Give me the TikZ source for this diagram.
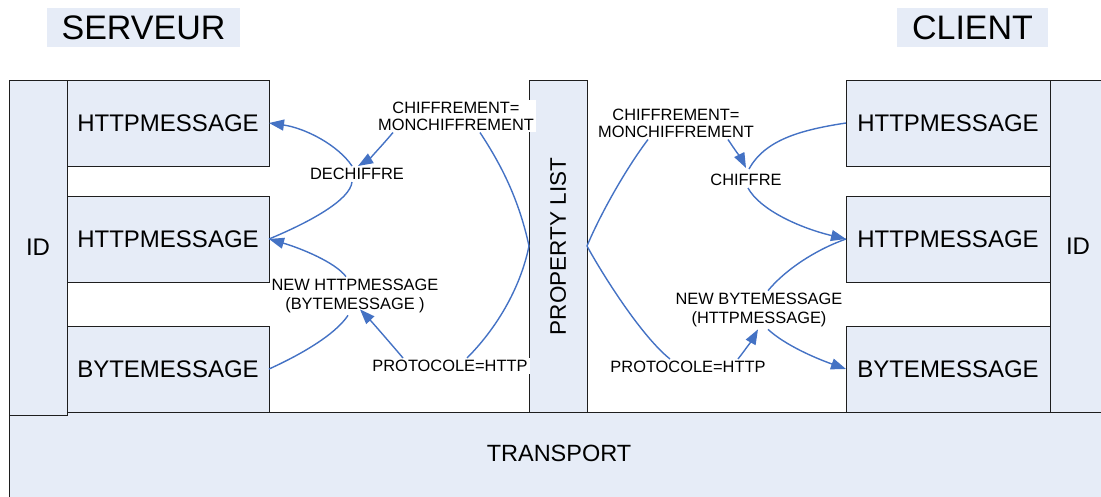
\documentclass[tikz,border=0pt]{standalone}
\usepackage{fontspec}
\setmainfont{Liberation Sans}
\usetikzlibrary{arrows.meta}
\definecolor{panel}{RGB}{230,236,247}
\definecolor{link}{RGB}{68,114,196}
\definecolor{edge}{RGB}{30,30,30}

\begin{document}
\begin{tikzpicture}[x=1pt,y=-1pt,
  box/.style={draw=edge, line width=1pt, fill=panel, inner sep=0pt, outer sep=0pt,
              font=\fontsize{24}{28}\selectfont},
  title/.style={fill=panel, inner sep=0pt, font=\fontsize{34}{40}\selectfont},
  tag/.style={fill=white, inner sep=2pt, align=center, font=\fontsize{16.4}{17}\selectfont},
  tagwide/.style={tag, font=\fontsize{16.4}{19.5}\selectfont},
  conn/.style={draw=link, line width=1.4pt},
  arr/.style={conn, -{Triangle[length=15pt,width=11pt]}},
]
\path[use as bounding box, clip] (0,0) rectangle (1101,496);

% titles
\node[title, minimum width=193pt, minimum height=39pt] (serveur) at (143.5,27.5) {SERVEUR};
\node[title, minimum width=151pt, minimum height=39pt] (client) at (972.5,27.5) {CLIENT};

% transport layer
\node[box, minimum width=1100pt, minimum height=100pt, anchor=north] (transport) at (559,412) {};
\node[font=\fontsize{23.5}{28}\selectfont] (transportlbl) at (559,453) {TRANSPORT};

% server side
\node[box, minimum width=58pt, minimum height=335pt] (idL) at (38,247.5) {ID};
\node[box, minimum width=202pt, minimum height=86pt] (hl1) at (168,123) {HTTPMESSAGE};
\node[box, minimum width=202pt, minimum height=86pt] (hl2) at (168,239) {HTTPMESSAGE};
\node[box, minimum width=202pt, minimum height=86pt] (hb3) at (168,369) {BYTEMESSAGE};

% property list
\node[box, minimum width=58pt, minimum height=332pt] (plist) at (558,246) {};
\node[rotate=90, font=\fontsize{22.5}{26}\selectfont] (plistlbl) at (558,246.5) {PROPERTY LIST};

% client side
\node[box, minimum width=204pt, minimum height=86pt] (hr1) at (948,123) {HTTPMESSAGE};
\node[box, minimum width=204pt, minimum height=86pt] (hr2) at (948,239) {HTTPMESSAGE};
\node[box, minimum width=204pt, minimum height=86pt] (hb3r) at (948,369) {BYTEMESSAGE};
\node[box, minimum width=56pt, minimum height=332pt] (idR) at (1078,246) {ID};

% labels
\node[tag] (encL) at (456,116) {CHIFFREMENT=\\MONCHIFFREMENT};
\node[tag] (dech) at (357,174) {DECHIFFRE};
\node[tagwide] (newH) at (355,296) {NEW HTTPMESSAGE\\(BYTEMESSAGE )};
\node[tag] (protL) at (450,366) {PROTOCOLE=HTTP};
\node[tag] (encR) at (676,123) {CHIFFREMENT=\\MONCHIFFREMENT};
\node[tag] (chif) at (746,180) {CHIFFRE};
\node[tagwide] (newB) at (759,310) {NEW BYTEMESSAGE\\(HTTPMESSAGE)};
\node[tag] (protR) at (688,367) {PROTOCOLE=HTTP};

% server-side connectors
\draw[arr] ([xshift=-5pt]dech.north) .. controls (338,145) and (305,128) .. (hl1.east);
\draw[arr] ([xshift=-63pt]encL.south) .. controls (380,148) and (368,160) .. ([xshift=1pt]dech.north);
\draw[conn] ([xshift=-5pt]dech.south) .. controls (350,200) and (310,222) .. (hl2.east);
\draw[arr] ([xshift=-9pt]newH.north) .. controls (335,262) and (300,248) .. (hl2.east);
\draw[conn] (hb3.east) .. controls (300,355) and (335,335) .. ([xshift=-7pt]newH.south);
\draw[arr] ([xshift=-47pt]protL.north) .. controls (392,345) and (372,322) .. ([xshift=5pt,yshift=6pt]newH.south);
\draw[conn] (plist.west) .. controls (518,195) and (498,160) .. ([xshift=24pt]encL.south);
\draw[conn] (plist.west) .. controls (520,290) and (495,330) .. ([xshift=17pt]protL.north);

% client-side connectors
\draw[conn] (plist.east) .. controls (600,215) and (625,170) .. ([xshift=-28pt]encR.south);
\draw[conn] (plist.east) .. controls (600,270) and (640,335) .. ([xshift=-18pt]protR.north);
\draw[arr] ([xshift=52pt]encR.south) .. controls (735,150) and (742,160) .. ([yshift=4pt]chif.north);
\draw[conn] (hr1.west) .. controls (800,130) and (765,140) .. ([xshift=3pt,yshift=3pt]chif.north);
\draw[arr] ([xshift=2pt]chif.south) .. controls (760,210) and (800,228) .. (hr2.west);
\draw[conn] ([xshift=9pt]newB.north) .. controls (785,270) and (815,250) .. (hr2.west);
\draw[arr] ([xshift=50pt]protR.north) .. controls (745,350) and (752,340) .. ([xshift=-1pt]newB.south);
\draw[arr] ([xshift=9pt]newB.south) .. controls (785,345) and (815,358) .. (hb3r.west);
\end{tikzpicture}
\end{document}
